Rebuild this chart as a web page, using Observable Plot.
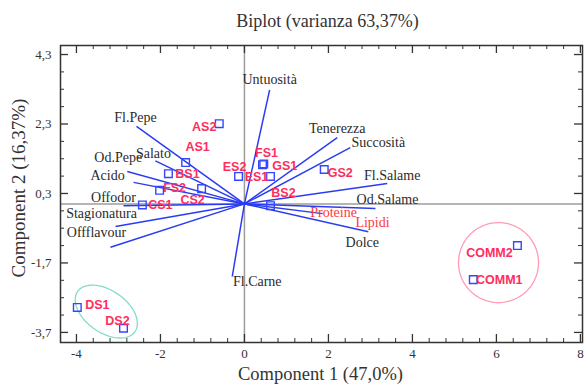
<!DOCTYPE html>
<html><head><meta charset="utf-8">
<script src="https://cdn.jsdelivr.net/npm/d3@7"></script>
<script src="https://cdn.jsdelivr.net/npm/@observablehq/plot@0.6"></script>
<style>html,body{margin:0;padding:0;background:#fff}#chart svg{display:block}</style>
</head><body><div id="chart"></div>
<script>
// ---- data ----
const obsNames = ["AS1","AS2","BS1","BS2","CS1","CS2","DS1","DS2","ES1","ES2","FS1","FS2","GS1","GS2","COMM1","COMM2"];
const obsPC1   = [-1.40,-0.60,-1.81, 0.62,-2.43,-1.02,-3.98,-2.88, 0.62,-0.14, 0.43,-2.02, 0.46, 1.90, 5.45, 6.50];
const obsPC2   = [ 1.19, 2.31, 0.87,-0.05,-0.03, 0.44,-2.98,-3.58, 0.79, 0.79, 1.13, 0.39, 1.15, 0.99,-2.18,-1.20];

const varNames = ["Untuosità","Fl.Pepe","Salato","Od.Pepe","Acido","Offodor","Stagionatura","Offflavour","Tenerezza","Succosità","Fl.Salame","Od.Salame","Proteine","Lipidi","Dolce","Fl.Carne"];
const varPC1   = [ 0.60,-2.57,-2.12,-2.79,-2.64,-2.88,-3.07,-3.19, 2.21, 2.52, 3.40, 3.12, 1.86, 3.05, 2.95,-0.29];
const varPC2   = [ 3.28, 2.23, 1.24, 0.93, 0.62,-0.05,-0.65,-1.25, 1.91, 1.62, 0.59,-0.13,-0.28,-0.54,-0.80,-2.09];
const supplementaryVars = ["Proteine","Lipidi"];
const varsWithoutArrow = ["Lipidi"];

const xMajorTicks = [-4,-2,0,2,4,6,8];
const yMajorTicks = [4.3,2.3,0.3,-1.7,-3.7];
const titleText = "Biplot (varianza 63,37%)";
const xLabelText = "Component 1 (47,0%)";
const yLabelText = "Component 2 (16,37%)";

// ---- layout / style ----
const W = 588, H = 385, mL = 60, mR = 6, mT = 45, mB = 43;
const xDom = [-4.38, 8.05], yDom = [-3.99, 4.56];
const innerW = W - mL - mR, innerH = H - mT - mB;
const kx = innerW / (xDom[1] - xDom[0]), ky = innerH / (yDom[1] - yDom[0]);

const obsLabelOffset = {
  AS1:[12,-16], AS2:[-15,3], BS1:[19,0], BS2:[13,-13], CS1:[18,0], CS2:[-9,11],
  DS1:[20,-2], DS2:[-6,-7], ES1:[-14,1], ES2:[-4,-9], FS1:[4,-12], FS2:[15,-2],
  GS1:[21,2], GS2:[16,3], COMM1:[26,0], COMM2:[-28,7]
};
const varLabelOffset = {
  "Untuosità":[0,-10], "Fl.Pepe":[-1,-9], "Salato":[-2,-7], "Od.Pepe":[-9,-14],
  "Acido":[-26,-7], "Offodor":[-10,-8], "Stagionatura":[-14,-13], "Offflavour":[-14,-15],
  "Tenerezza":[0,-9], "Succosità":[28,-5], "Fl.Salame":[5,-8], "Od.Salame":[12,-9],
  "Proteine":[11,-1], "Lipidi":[0,0], "Dolce":[-6,11], "Fl.Carne":[25,5]
};
// cluster outlines (center in data units, axes in px, angle in degrees)
const outlines = [
  {cx:-3.29, cy:-3.10, a:35, b:21, angle:35, color:"#84dcc8"},
  {cx: 6.05, cy:-1.69, a:40, b:40, angle:0, color:"#ff9cb3"}
];

const obs = obsNames.map((n,i)=>({name:n, x:obsPC1[i], y:obsPC2[i]}));
const vars = varNames.map((n,i)=>({name:n, x:varPC1[i], y:varPC2[i], supp:supplementaryVars.includes(n)}));
const arrows = vars.filter(d=>!varsWithoutArrow.includes(d.name));

function outlinePoints(o){
  const t = o.angle*Math.PI/180, pts = [];
  for (let i=0;i<=120;i++){
    const s = i/120*2*Math.PI;
    const dx = o.a*Math.cos(s)*Math.cos(t) - o.b*Math.sin(s)*Math.sin(t);
    const dy = o.a*Math.cos(s)*Math.sin(t) + o.b*Math.sin(s)*Math.cos(t);
    pts.push({x:o.cx + dx/kx, y:o.cy - dy/ky});
  }
  return pts;
}

const fmt = d => String(d).replace(".", ",");
const xMinor = d3.range(-4, 8.01, 0.4).map(v=>+v.toFixed(2)).filter(v=>!xMajorTicks.some(m=>Math.abs(m-v)<1e-6));
const yMinor = d3.range(-3.7, 4.56, 0.5).map(v=>+v.toFixed(2)).filter(v=>!yMajorTicks.some(m=>Math.abs(m-v)<1e-6));

const SERIF = "Liberation Serif, Times New Roman, serif";
const SANS = "Liberation Sans, Arial, sans-serif";
const blue = "#2a3cf2", tickColor = "#333";

const marks = [
  Plot.ruleY([0], {stroke:"#9c9c9c", strokeWidth:1.5}),
  Plot.ruleX([0], {stroke:"#9c9c9c", strokeWidth:1.5}),
  ...outlines.map(o => Plot.line(outlinePoints(o), {x:"x", y:"y", stroke:o.color, strokeWidth:1.3})),
  Plot.link(arrows, {x1:()=>0, y1:()=>0, x2:"x", y2:"y", stroke:blue, strokeWidth:1.5}),
  Plot.dot(obs, {x:"x", y:"y", symbol:"square", r:4.3, stroke:"#3446ff", strokeWidth:1.4, fill:"none"}),
  ...obs.map(d => Plot.text([d], {x:"x", y:"y", text:"name", dx:obsLabelOffset[d.name][0], dy:obsLabelOffset[d.name][1],
      fill:"#ff2d5e", fontFamily:SANS, fontWeight:"bold", fontSize:12.5})),
  ...vars.map(d => Plot.text([d], {x:"x", y:"y", text:"name", dx:varLabelOffset[d.name][0], dy:varLabelOffset[d.name][1],
      fill:d.supp ? "#ff3a3a" : "#2b2b2b", fontFamily:SERIF, fontSize:14})),
  Plot.frame({stroke:"#333", strokeWidth:1.5}),
  // inward ticks on all four sides
  Plot.ruleX(xMajorTicks, {x:d=>d, insetTop:innerH-8, stroke:tickColor, strokeWidth:1.3}),
  Plot.ruleX(xMinor, {x:d=>d, insetTop:innerH-4, stroke:tickColor, strokeWidth:1}),
  Plot.ruleX(xMajorTicks, {x:d=>d, insetBottom:innerH-8, stroke:tickColor, strokeWidth:1.3}),
  Plot.ruleX(xMinor, {x:d=>d, insetBottom:innerH-4, stroke:tickColor, strokeWidth:1}),
  Plot.ruleY(yMajorTicks, {y:d=>d, insetRight:innerW-8, stroke:tickColor, strokeWidth:1.3}),
  Plot.ruleY(yMinor, {y:d=>d, insetRight:innerW-4, stroke:tickColor, strokeWidth:1}),
  Plot.ruleY(yMajorTicks, {y:d=>d, insetLeft:innerW-8, stroke:tickColor, strokeWidth:1.3}),
  Plot.ruleY(yMinor, {y:d=>d, insetLeft:innerW-4, stroke:tickColor, strokeWidth:1}),
  Plot.axisX({ticks:xMajorTicks, tickSize:0, tickPadding:6, tickFormat:fmt, label:null, fontSize:13, fill:"#333"}),
  Plot.axisY({ticks:yMajorTicks, tickSize:0, tickPadding:9, tickFormat:fmt, label:null, fontSize:13, fill:"#333"}),
  Plot.text([titleText], {frameAnchor:"top", dy:-24, dx:6, textAnchor:"middle", lineAnchor:"middle", fontSize:18, fill:"#333", fontFamily:SERIF}),
  Plot.text([xLabelText], {frameAnchor:"bottom", dy:32, dx:-1, textAnchor:"middle", lineAnchor:"middle", fontSize:18.5, fill:"#333", fontFamily:SERIF}),
  Plot.text([yLabelText], {frameAnchor:"left", dx:-42, dy:-6, rotate:-90, textAnchor:"middle", lineAnchor:"middle", fontSize:19, fill:"#333", fontFamily:SERIF})
];

const chart = Plot.plot({
  width:W, height:H, marginLeft:mL, marginRight:mR, marginTop:mT, marginBottom:mB,
  x:{domain:xDom}, y:{domain:yDom},
  style:{fontFamily:SERIF, background:"#fff", overflow:"visible"},
  marks
});
document.getElementById("chart").appendChild(chart);
</script>
</body></html>
